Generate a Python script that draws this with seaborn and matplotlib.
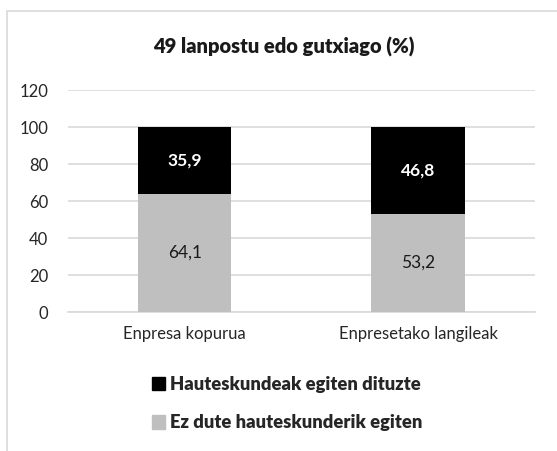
import matplotlib
matplotlib.use("Agg")
import matplotlib.pyplot as plt
import matplotlib.patches as mpatches
import pandas as pd
import seaborn as sns

# data
categories = ["Enpresa kopurua", "Enpresetako langileak"]
ez_dute = [64.1, 53.2]        # Ez dute hauteskunderik egiten (bottom, grey)
egiten_dituzte = [35.9, 46.8]  # Hauteskundeak egiten dituzte (top, black)
yticks = [0, 20, 40, 60, 80, 100, 120]
title = "49 lanpostu edo gutxiago (%)"

GREY = "#BFBFBF"
BLACK = "#000000"

sns.set_theme(style="white")
plt.rcParams["font.family"] = ["Lato", "DejaVu Sans"]

df = pd.DataFrame({"cat": categories, "ez": ez_dute, "bai": egiten_dituzte})
df["total"] = df["ez"] + df["bai"]

fig = plt.figure(figsize=(5.57, 4.51), dpi=100)
ax = fig.add_axes([0.122, 0.308, 0.838, 0.492])

# stacked: draw totals in black, then grey part on top of it
sns.barplot(data=df, x="cat", y="total", color=BLACK, width=0.4,
            saturation=1, linewidth=0, ax=ax, zorder=3)
sns.barplot(data=df, x="cat", y="ez", color=GREY, width=0.4,
            saturation=1, linewidth=0, ax=ax, zorder=3)

for i, (lo, hi) in enumerate(zip(df["ez"], df["bai"])):
    ax.text(i, lo / 2, f"{lo:.1f}".replace(".", ","), ha="center", va="center",
            fontsize=12.5, color="#1a1a1a", zorder=4)
    ax.text(i, lo + hi / 2, f"{hi:.1f}".replace(".", ","), ha="center", va="center",
            fontsize=12.5, color="white", fontweight="bold", zorder=4)

ax.set_ylim(0, 120)
ax.set_yticks(yticks)
ax.yaxis.grid(True, color="#D9D9D9", linewidth=1.2, zorder=0)
ax.set_axisbelow(True)
for s in ["top", "right", "left"]:
    ax.spines[s].set_visible(False)
ax.spines["bottom"].set_color("#D9D9D9")
ax.spines["bottom"].set_linewidth(1.2)
ax.tick_params(axis="both", length=0, labelsize=12, labelcolor="#262626")
ax.tick_params(axis="y", pad=14)
ax.tick_params(axis="x", pad=10)
ax.set_xlabel("")
ax.set_ylabel("")

fig.text(0.51, 0.895, title, ha="center", va="center", fontsize=14.5,
         fontweight="heavy", color="#1a1a1a")

handles = [mpatches.Patch(color=BLACK, label="Hauteskundeak egiten dituzte"),
           mpatches.Patch(color=GREY, label="Ez dute hauteskunderik egiten")]
fig.legend(handles=handles, loc="center", bbox_to_anchor=(0.515, 0.105),
           ncol=1, frameon=False, handlelength=0.75, handleheight=0.75,
           handletextpad=0.25, labelspacing=1.15,
           prop={"weight": "heavy", "size": 13.2})

# chart border (runs off the right and bottom of the picture)
fig.patches.append(mpatches.Rectangle((7 / 557, -0.05), 1.0, 1 - 11 / 451 + 0.05,
                                      transform=fig.transFigure, fill=False,
                                      edgecolor="#D9D9D9", linewidth=1.2))

fig.savefig("out.png", dpi=100)
